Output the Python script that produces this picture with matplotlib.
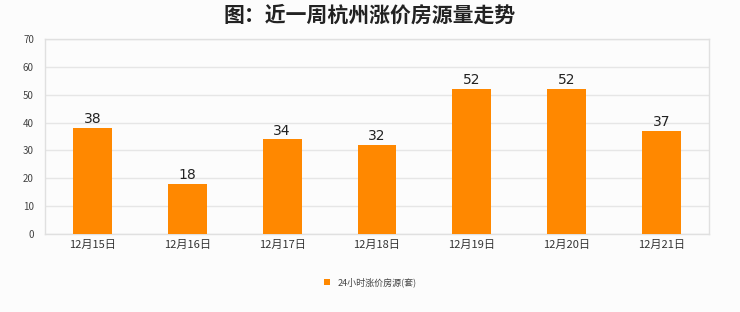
import numpy as np
import matplotlib
matplotlib.use("Agg")
import matplotlib.pyplot as plt

plt.rcParams["font.family"] = ["Noto Sans CJK SC", "DejaVu Sans"]
plt.rcParams["axes.unicode_minus"] = False

# 数据
dates = ["12月15日", "12月16日", "12月17日", "12月18日", "12月19日", "12月20日", "12月21日"]
counts = [38, 18, 34, 32, 52, 52, 37]
series_name = "24小时涨价房源(套)"
title = "图：近一周杭州涨价房源量走势"

bg = "#fcfcfc"
orange = "#ff8800"

fig = plt.figure(figsize=(7.4, 3.12), dpi=100, facecolor=bg)
ax = fig.add_axes([45 / 740, 1 - 234 / 312, 664 / 740, 195 / 312])
ax.set_facecolor(bg)

x = np.arange(len(dates)) + 0.5
bars = ax.bar(x, counts, width=0.41, color=orange, zorder=3, label=series_name)
for b, v in zip(bars, counts):
    ax.text(b.get_x() + b.get_width() / 2, v + 0.6, str(v), ha="center", va="bottom",
            fontsize=10, color="#222222", family="DejaVu Sans", zorder=4)

ax.set_xlim(0, len(dates))
ax.set_ylim(0, 70)
ax.set_yticks(range(0, 71, 10))
ax.set_xticks(x)
ax.set_xticklabels(dates, fontsize=8, color="#333333")
ax.tick_params(axis="y", labelsize=7, labelcolor="#444444", length=0, pad=8)
ax.tick_params(axis="x", length=0, pad=4)
ax.yaxis.grid(True, color="#e6e6e6", linewidth=1, zorder=0)
for s in ax.spines.values():
    s.set_color("#e0e0e0")
    s.set_linewidth(1)

fig.text(0.5, 1 - 15 / 312, title, ha="center", va="center", fontsize=15,
         fontweight="bold", color="#222222")

leg = fig.legend(loc="center", bbox_to_anchor=(0.5, 1 - 282 / 312), frameon=False,
                 fontsize=6.5, handlelength=0.7, handleheight=0.7, handletextpad=0.8)
for t in leg.get_texts():
    t.set_color("#444444")

fig.savefig("out.png", dpi=100, facecolor=bg)
